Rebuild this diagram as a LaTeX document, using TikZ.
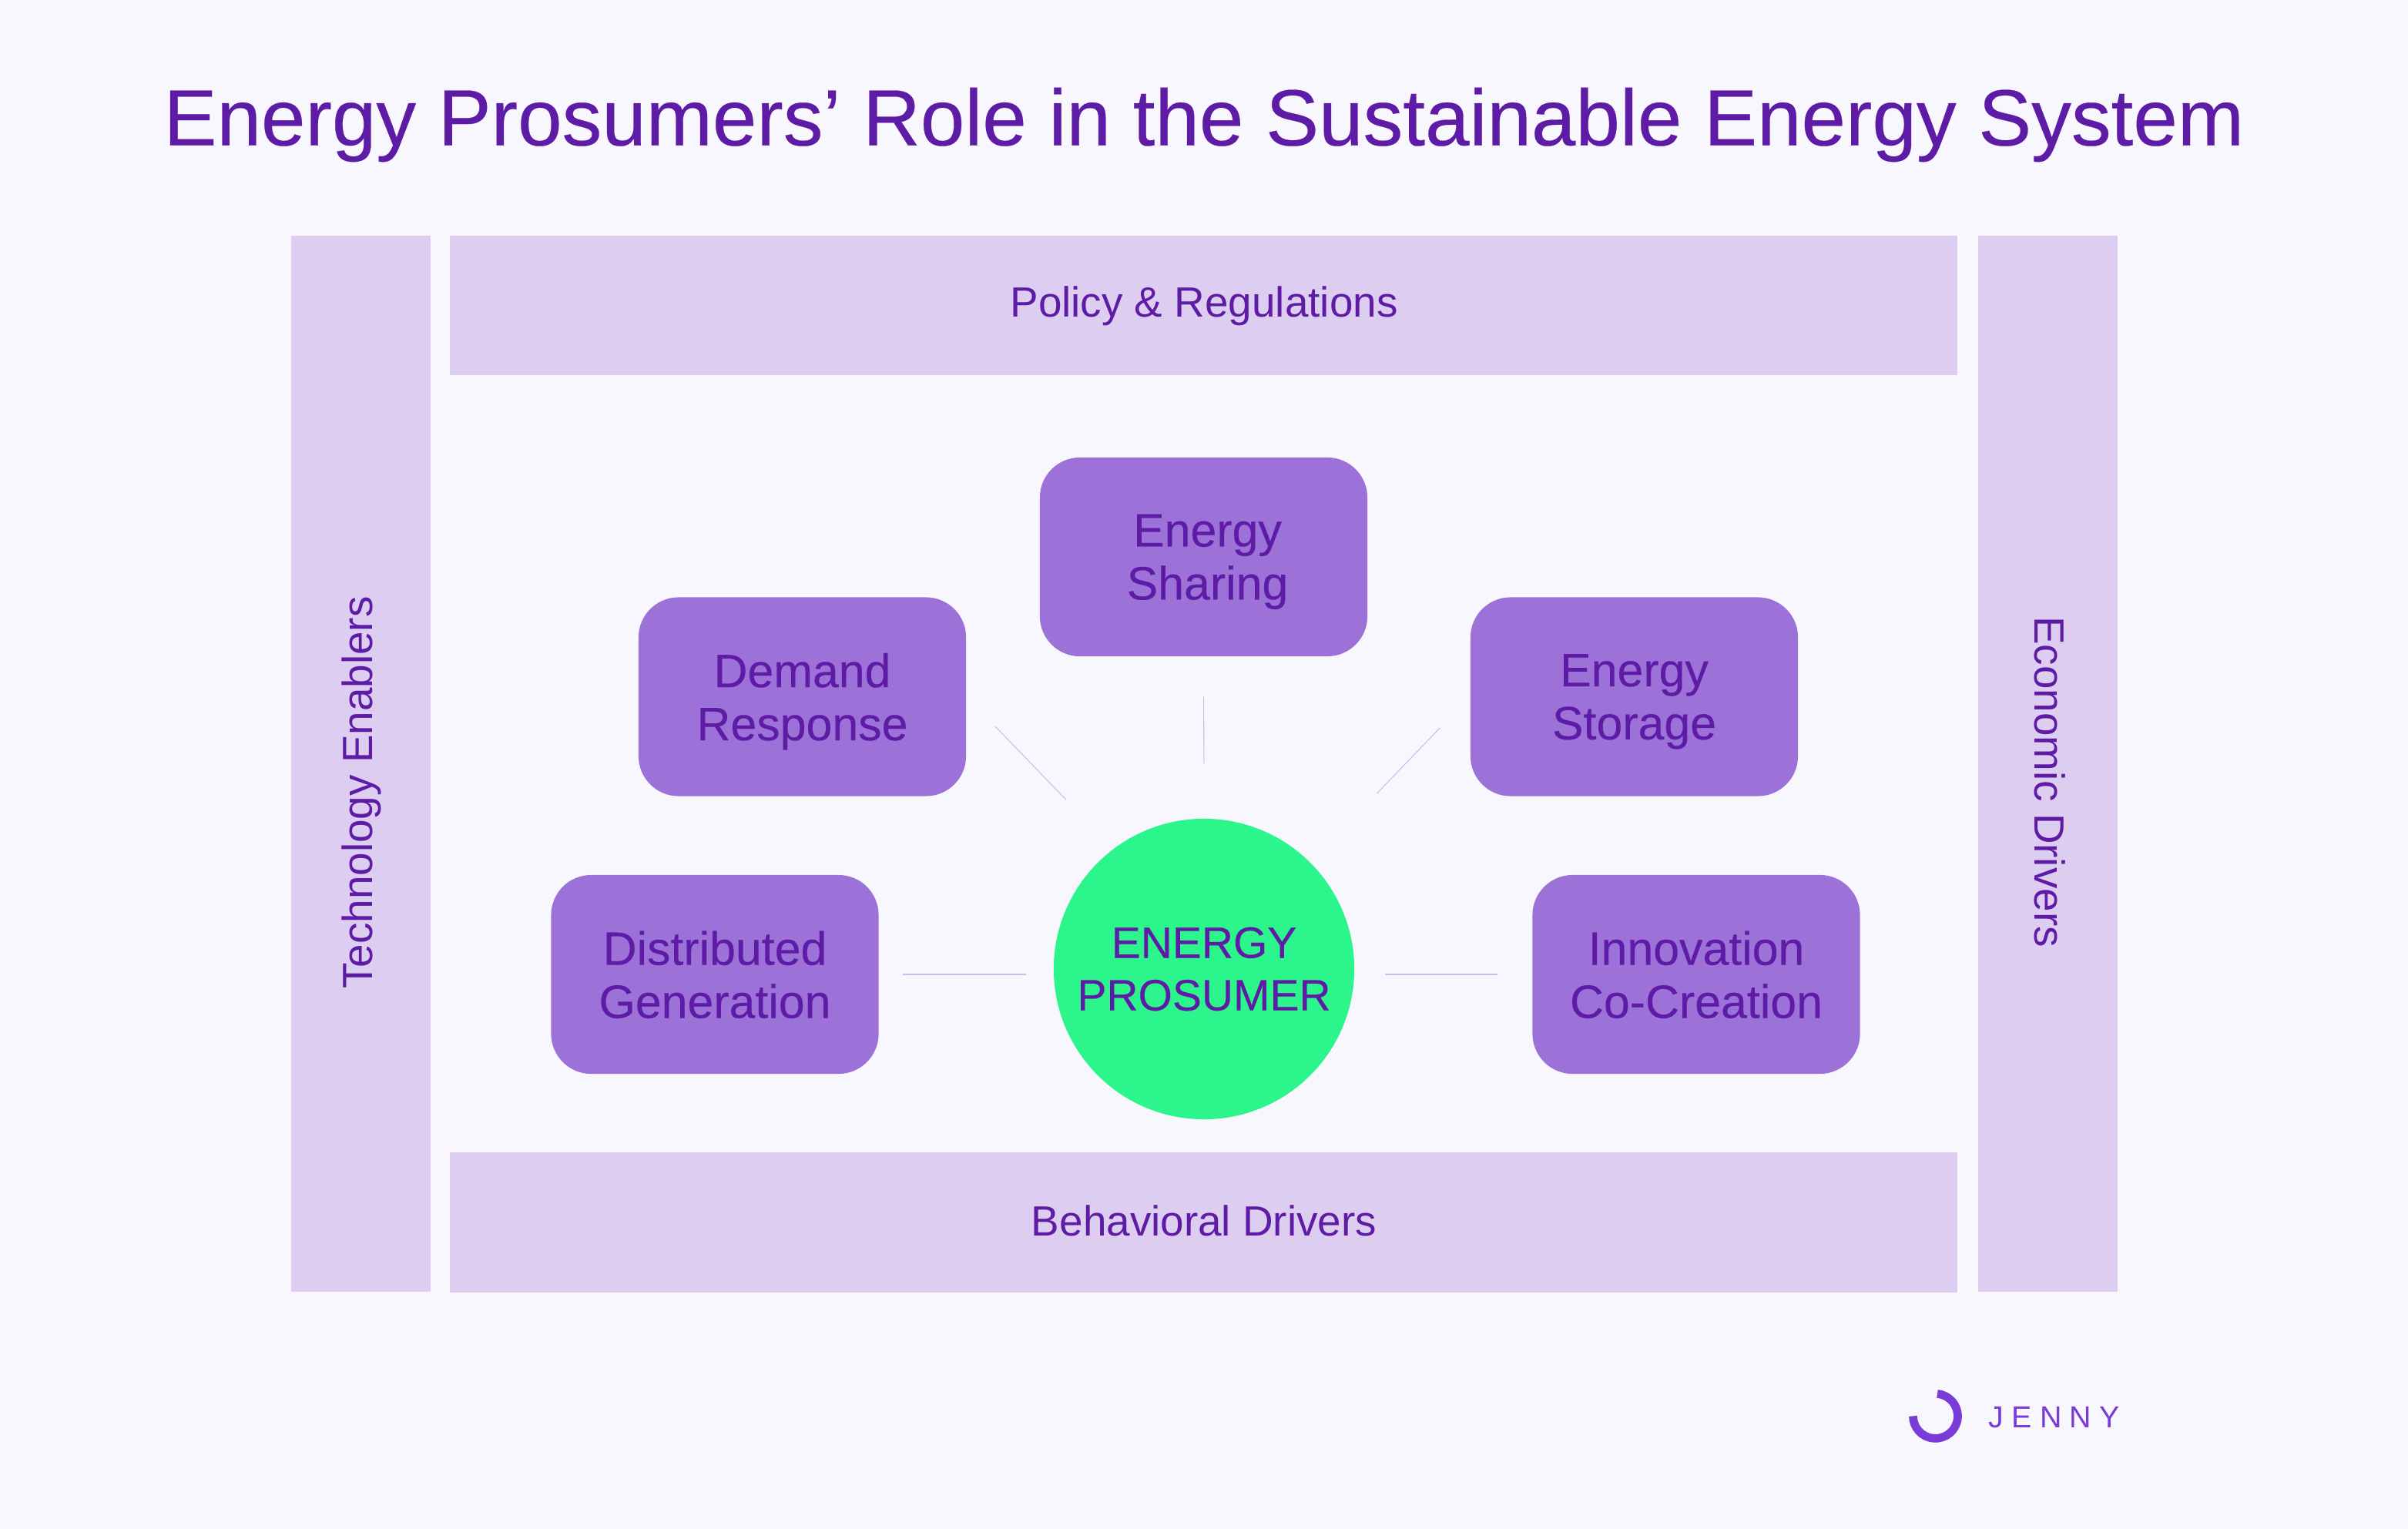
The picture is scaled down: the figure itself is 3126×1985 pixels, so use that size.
\documentclass[tikz,border=0pt]{standalone}
\usepackage{fontspec}
\setmainfont{Liberation Sans}
\newfontfamily\heavyfont[FakeBold=0.25]{Liberation Sans}
\definecolor{pagebg}{HTML}{F7F7FD}
\definecolor{barfill}{HTML}{DDCDF0}
\definecolor{boxfill}{HTML}{9D72D8}
\definecolor{inkpurple}{HTML}{5E1BA5}
\definecolor{hubgreen}{HTML}{2CF58C}
\definecolor{linkline}{HTML}{CBBDE8}
\definecolor{logopurple}{HTML}{7B3BD8}
\tikzset{
  barbox/.style={fill=barfill, inner sep=0pt},
  barlabel/.style={text=inkpurple, inner sep=0pt, font=\fontsize{15.6}{18}\selectfont},
  rolebox/.style={fill=boxfill, rounded corners=0.52cm, minimum width=4.25cm, minimum height=2.58cm,
    inner sep=0pt, align=center, text=inkpurple, text depth=0pt,
    font=\heavyfont\fontsize{17.3}{19.6}\selectfont},
  link/.style={draw=linkline, line width=0.3pt}
}
\begin{document}
\begin{tikzpicture}[x=0.01cm, y=-0.01cm]
    \fill[pagebg] (0,0) rectangle (3126,1985);
    \useasboundingbox (0,0) rectangle (3126,1985);

    \node[text=inkpurple, font=\heavyfont\fontsize{29.4}{36}\selectfont, inner sep=0pt] (title) at (1563,162)
        {Energy Prosumers’ Role in the Sustainable Energy System};

    % Frame: four bars
    \node[barbox, minimum width=1.81cm, minimum height=13.71cm] (techbar) at (468.5,991.5) {};
    \node[barbox, minimum width=1.81cm, minimum height=13.71cm] (econbar) at (2658.5,991.5) {};
    \node[barbox, minimum width=19.55cm, minimum height=1.81cm] (policybar) at (1562.5,396.5) {};
    \node[barbox, minimum width=19.55cm, minimum height=1.81cm] (behavbar) at (1562.5,1587) {};
    \node[barlabel, rotate=90] (techtext) at (469,1029) {Technology Enablers};
    \node[barlabel, rotate=-90] (econtext) at (2661,1015) {Economic Drivers};
    \node[barlabel] (policytext) at (1563,397) {Policy \& Regulations};
    \node[barlabel] (behavtext) at (1563,1585) {Behavioral Drivers};

    % Roles around the hub
    \foreach \p/\x/\y/\t in {sharing/1562.5/723/{\hspace*{0.1cm}Energy\\\hspace*{0.1cm}Sharing},
        demand/1041.5/904.5/{Demand\\Response},
        storage/2121.5/904.5/{Energy\\Storage}, distgen/928/1265/{Distributed\\Generation},
        innovation/2202/1265/{Innovation\\Co-Creation}} {
        \node[rolebox] (\p) at (\x,\y) {\t};
    }
    \node[circle, fill=hubgreen, minimum size=3.9cm, inner sep=0pt, align=center, text=inkpurple,
        font=\heavyfont\fontsize{16.2}{19.4}\selectfont] (hub) at (1563,1258) {ENERGY\\PROSUMER};

    % Short links, not touching
    \draw[link, shorten <=0.52cm, shorten >=0.71cm] (sharing.south) -- (hub.north);
    \draw[link, shorten <=0.54cm, shorten >=0.88cm] (demand.east) -- (hub.127);
    \draw[link, shorten <=0.56cm, shorten >=1.24cm] (storage.west) -- (hub.45);
    \draw[link, shorten <=0.31cm, shorten >=0.35cm] (distgen.east) -- (distgen.east -| hub.west);
    \draw[link, shorten <=0.45cm, shorten >=0.39cm] (innovation.west) -- (innovation.west -| hub.east);

    % Logo
    \draw[logopurple, line width=0.107cm] (2515,1809.5) arc[start angle=-85, end angle=180, radius=29];
    \node[text=logopurple, inner sep=0pt, anchor=west] (logotext) at (2581,1840)
        {\fontsize{11.2}{13}\selectfont\addfontfeature{LetterSpace=26}JENNY};
\end{tikzpicture}
\end{document}
